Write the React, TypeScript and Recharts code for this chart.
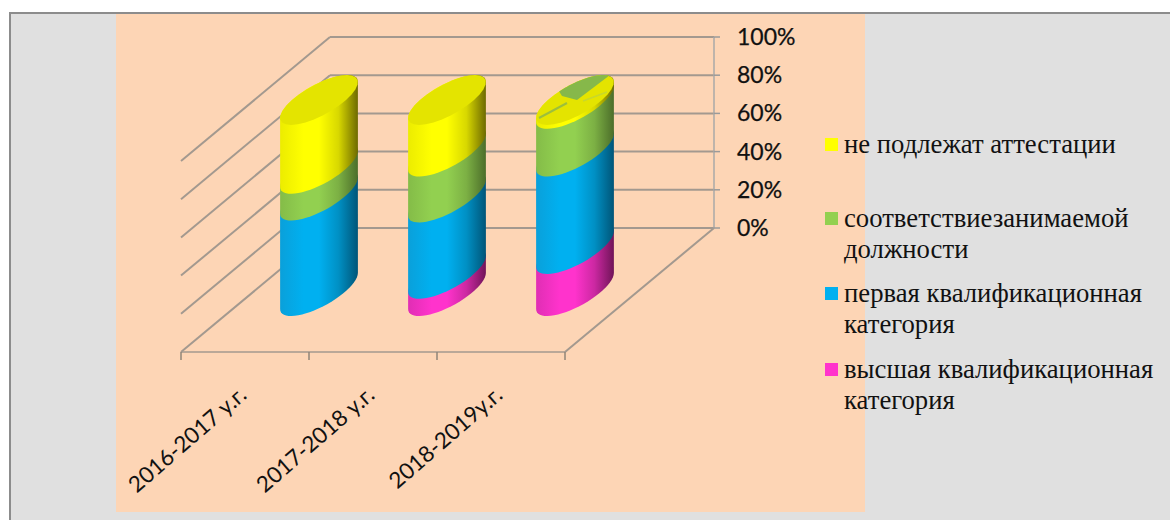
import React from 'react';
import { BarChart, Bar, XAxis, YAxis, CartesianGrid, Legend } from 'recharts';

const categories = ['2016-2017 у.г.', '2017-2018 у.г.', '2018-2019у.г.'];
const highest = [0, 9, 22];
const first = [50, 40, 51];
const matching = [14, 24, 25];
const exempt = [36, 27, 2];
const yTicks = [0, 20, 40, 60, 80, 100];

const names = {
  highest: 'высшая квалификационная категория',
  first: 'первая квалификационная категория',
  matching: 'соответствиезанимаемой должности',
  exempt: 'не подлежат аттестации',
};
const colors = { highest: '#ff33cc', first: '#00b0f0', matching: '#92d050', exempt: '#ffff00' };

const data = categories.map((name, i) => ({
  name,
  highest: highest[i],
  first: first[i],
  matching: matching[i],
  exempt: exempt[i],
}));

const DEPTH_X = -149;
const DEPTH_Y = 124;
const MID_X = -75;
const MID_Y = 63;
const RX = 27;
const DX = 28;
const DY = 25;
const T0 = Math.atan2(DX, RX);
const GRID = '#a3998f';
const DEG = Math.PI / 180;

function arc(cx: number, cy: number, from: number, to: number, first: boolean) {
  const n = 28;
  let s = '';
  for (let i = 0; i <= n; i++) {
    const t = from + ((to - from) * i) / n;
    const px = cx + Math.cos(t) * RX + Math.sin(t) * DX;
    const py = cy - Math.sin(t) * DY;
    s += `${i === 0 && first ? 'M' : 'L'}${px.toFixed(2)},${py.toFixed(2)} `;
  }
  return s;
}

function Gradient({ id, c0, c1, c2, c3 }: any) {
  return (
    <linearGradient id={id} x1="0" y1="0" x2="1" y2="0">
      <stop offset="0" stopColor={c0} />
      <stop offset="0.3" stopColor={c1} />
      <stop offset="0.5" stopColor={c1} />
      <stop offset="0.75" stopColor={c2} />
      <stop offset="1" stopColor={c3} />
    </linearGradient>
  );
}

function cylinder(key: string, isTop: boolean) {
  return (props: any) => {
    const { x, y, width, height } = props;
    if (!height || height <= 0) return <g />;
    const cx = x + width / 2 + MID_X;
    const yt = y + MID_Y;
    const yb = y + height + MID_Y;
    const d =
      arc(cx, yb, Math.PI + T0, 2 * Math.PI + T0, true) + arc(cx, yt, T0, Math.PI + T0, false) + 'Z';
    const cap = arc(cx, yt, 0, 2 * Math.PI, true) + 'Z';
    const thin = isTop && height < 10;
    return (
      <g>
        <path d={d} fill={`url(#grad-${key})`} />
        {isTop && <path d={cap} fill="#e4e400" />}
        {thin && (
          <g>
            <path
              d={`${arc(cx, yt, 160 * DEG, 75 * DEG, true)}L${cx + 2},${yt} L${cx - 13},${yt - 4} Z`}
              fill="#86b84a"
            />
            <line x1={cx - 36} y1={yt + 18} x2={cx - 8} y2={yt + 3} stroke="#9cbf3c" strokeWidth={2} />
            <line x1={cx + 8} y1={yt + 1} x2={cx + 32} y2={yt - 8} stroke="#c8d82c" strokeWidth={1.5} />
          </g>
        )}
      </g>
    );
  };
}

function XTick(props: any) {
  const { x, y, payload, index } = props;
  const band = 128;
  const bx = y - 8;
  const left = x - band / 2;
  const right = x + band / 2;
  const fx = left + DEPTH_X;
  const fy = bx + DEPTH_Y;
  const lx = x + DEPTH_X + 3;
  const ly = fy + 45;
  return (
    <g>
      {index === 2 && (
        <line x1={right} y1={bx} x2={right + DEPTH_X} y2={fy} stroke={GRID} strokeWidth={2} />
      )}
      <line x1={fx} y1={fy} x2={right + DEPTH_X} y2={fy} stroke={GRID} strokeWidth={1.5} />
      <line x1={fx} y1={fy} x2={fx} y2={fy + 8} stroke="#8f8579" strokeWidth={1.5} />
      {index === 2 && (
        <line x1={right + DEPTH_X} y1={fy} x2={right + DEPTH_X} y2={fy + 8} stroke="#8f8579" strokeWidth={1.5} />
      )}
      <text
        x={lx}
        y={ly}
        textAnchor="end"
        fontFamily="Lato"
        fontSize={22.4}
        fill="#111"
        transform={`rotate(-41 ${lx} ${ly})`}
      >
        {payload.value}
      </text>
    </g>
  );
}

function YTick(props: any) {
  const { x, y, payload } = props;
  const ax = x - 8;
  return (
    <g>
      <line x1={ax} y1={y} x2={ax + 6} y2={y} stroke="#9a9a9a" strokeWidth={1.5} />
      <text x={ax + 23} y={y + 8} fontFamily="Lato" fontSize={23} fill="#111" stroke="#111" strokeWidth={0.25}>
        {`${payload.value}%`}
      </text>
    </g>
  );
}

function GridLine(props: any) {
  const { x1, y1, x2, y2 } = props;
  return (
    <g>
      <line x1={x1} y1={y1} x2={x2} y2={y2} stroke={GRID} strokeWidth={2} />
      <line x1={x1} y1={y1} x2={x1 + DEPTH_X} y2={y1 + DEPTH_Y} stroke={GRID} strokeWidth={2} />
    </g>
  );
}

const legendTops = [129, 203, 278, 354];

function LegendBox(props: any) {
  const items = [...(props.payload || [])].reverse();
  return (
    <div style={{ position: 'relative', width: 345, height: 330 }}>
      {items.map((it: any, i: number) => (
        <div
          key={it.value}
          style={{
            position: 'absolute',
            left: 0,
            top: legendTops[i] - 129,
            width: 345,
            fontFamily: '"Liberation Serif"',
            fontSize: 26.7,
            lineHeight: '31px',
            color: '#111',
          }}
        >
          <span
            style={{ position: 'absolute', left: 0, top: 9, width: 13, height: 13, background: it.color }}
          />
          <div style={{ marginLeft: 19, width: 325 }}>{it.value}</div>
        </div>
      ))}
    </div>
  );
}

export default function App() {
  return (
    <div style={{ position: 'absolute', left: 0, top: 0, width: 1170, height: 520, overflow: 'hidden', background: '#fff' }}>
      <div
        style={{
          position: 'absolute',
          left: 9,
          top: 12,
          width: 1180,
          height: 520,
          background: '#e0e0e0',
          border: '2.5px solid #8c8c8c',
          boxSizing: 'border-box',
        }}
      />
      <div style={{ position: 'absolute', left: 116, top: 14, width: 749, height: 498, background: '#fdd5b5' }} />
      <div style={{ position: 'absolute', left: 0, top: 0 }}>
        <BarChart
          width={1170}
          height={520}
          data={data}
          margin={{ top: 37, right: 396, bottom: 252, left: 330 }}
          barSize={78}
          barGap={0}
        >
          <defs>
            <Gradient id="grad-exempt" c0="#ecec00" c1="#ffff00" c2="#d8d800" c3="#6e6a00" />
            <Gradient id="grad-matching" c0="#84bc48" c1="#92d050" c2="#7cb044" c3="#4c6e2a" />
            <Gradient id="grad-first" c0="#0aa0da" c1="#00b0f0" c2="#0090c4" c3="#005578" />
            <Gradient id="grad-highest" c0="#e02eb4" c1="#ff33cc" c2="#cc28a2" c3="#701458" />
          </defs>
          <CartesianGrid horizontal={GridLine} vertical={false} />
          <XAxis
            dataKey="name"
            height={40}
            axisLine={false}
            tickLine={false}
            interval={0}
            tick={XTick}
          />
          <YAxis
            orientation="right"
            width={60}
            domain={[0, 100]}
            ticks={yTicks}
            axisLine={{ stroke: '#a8a8a8', strokeWidth: 1.5 }}
            tickLine={false}
            tick={YTick}
            interval={0}
          />
          <Legend
            layout="horizontal"
            verticalAlign="middle"
            align="center"
            itemSorter={null}
            wrapperStyle={{ position: 'absolute', left: 825, top: 129, width: 345, height: 330, right: 'auto', bottom: 'auto' }}
            content={LegendBox}
          />
          <Bar dataKey="highest" name={names.highest} stackId="a" fill={colors.highest} isAnimationActive={false} shape={cylinder('highest', false)} />
          <Bar dataKey="first" name={names.first} stackId="a" fill={colors.first} isAnimationActive={false} shape={cylinder('first', false)} />
          <Bar dataKey="matching" name={names.matching} stackId="a" fill={colors.matching} isAnimationActive={false} shape={cylinder('matching', false)} />
          <Bar dataKey="exempt" name={names.exempt} stackId="a" fill={colors.exempt} isAnimationActive={false} shape={cylinder('exempt', true)} />
        </BarChart>
      </div>
    </div>
  );
}
